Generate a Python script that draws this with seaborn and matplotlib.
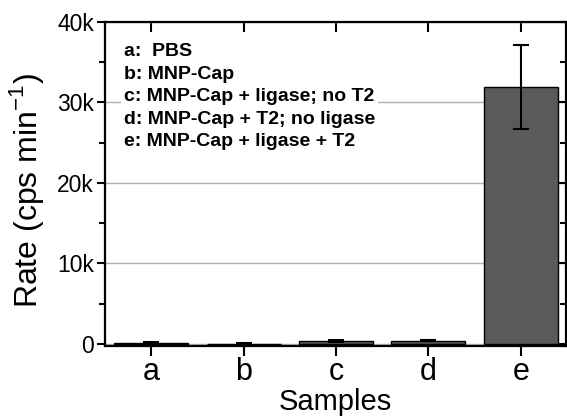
import matplotlib
matplotlib.use("Agg")
import matplotlib.pyplot as plt
from matplotlib.ticker import MultipleLocator, FuncFormatter
import seaborn as sns
import pandas as pd
import numpy as np

samples = ["a", "b", "c", "d", "e"]
rates = [150, 60, 380, 430, 31900]
errors = [60, 60, 100, 100, 5200]
legend_lines = ["a:  PBS", "b: MNP-Cap", "c: MNP-Cap + ligase; no T2",
                "d: MNP-Cap + T2; no ligase", "e: MNP-Cap + ligase + T2"]

sns.set_style("white")
plt.rcParams["font.family"] = ["Liberation Sans", "DejaVu Sans"]
plt.rcParams.update({"text.color": "black", "axes.labelcolor": "black",
                     "xtick.color": "black", "ytick.color": "black"})

df = pd.DataFrame({"Samples": samples, "Rate": rates})

fig = plt.figure(figsize=(5.67, 4.18), dpi=100)
ax = fig.add_axes([105/567, 1-346/418, (566-105)/567, (346-22)/418])

sns.barplot(data=df, x="Samples", y="Rate", color="#5a5a5a", saturation=1,
            edgecolor="black", linewidth=1.0, width=0.8, errorbar=None, ax=ax, zorder=3)
ax.errorbar(np.arange(len(samples)), rates, yerr=errors, fmt="none", ecolor="black",
            elinewidth=1.5, capsize=6, capthick=1.5, zorder=4)

ax.set_xlim(-0.5, 4.49)
ax.set_ylim(-250, 40000)
ax.yaxis.set_major_locator(MultipleLocator(10000))
ax.yaxis.set_minor_locator(MultipleLocator(5000))
ax.yaxis.set_major_formatter(FuncFormatter(lambda v, p: "0" if v == 0 else f"{int(v/1000)}k"))
ax.grid(axis="y", which="major", color="#b0b0b0", linewidth=1.0, zorder=0)
ax.set_axisbelow(True)

for s in ax.spines.values():
    s.set_linewidth(1.6)
    s.set_color("black")
    s.set_visible(True)

ax.tick_params(axis="y", which="major", left=True, right=True, direction="out", length=6, width=1.5,
               labelsize=16.5, pad=2, colors="black")
ax.tick_params(axis="y", which="minor", left=True, right=True, direction="out", length=4, width=1.5,
               colors="black")
ax.tick_params(axis="x", which="major", bottom=True, top=True, direction="out", length=7, width=1.5,
               labelsize=22, pad=1, colors="black")
# right and top ticks point inward
for t in ax.yaxis.get_major_ticks() + ax.yaxis.get_minor_ticks():
    t.tick2line.set_marker(0)
for t in ax.xaxis.get_major_ticks():
    t.tick2line.set_marker(3)

ax.set_xlabel("Samples", fontsize=21, labelpad=1, color="black")
ax.set_ylabel("Rate (cps min$^{\\mathregular{-1}}$)", fontsize=23, color="black")
ax.yaxis.set_label_coords(-0.128, 0.481)

ax.text(0.041, 0.935, "\n".join(legend_lines), transform=ax.transAxes, fontsize=14,
        fontweight="bold", va="top", ha="left", linespacing=1.43, color="black",
        bbox=dict(facecolor="white", edgecolor="none", pad=2), zorder=5)

fig.savefig("out.png", dpi=100)
